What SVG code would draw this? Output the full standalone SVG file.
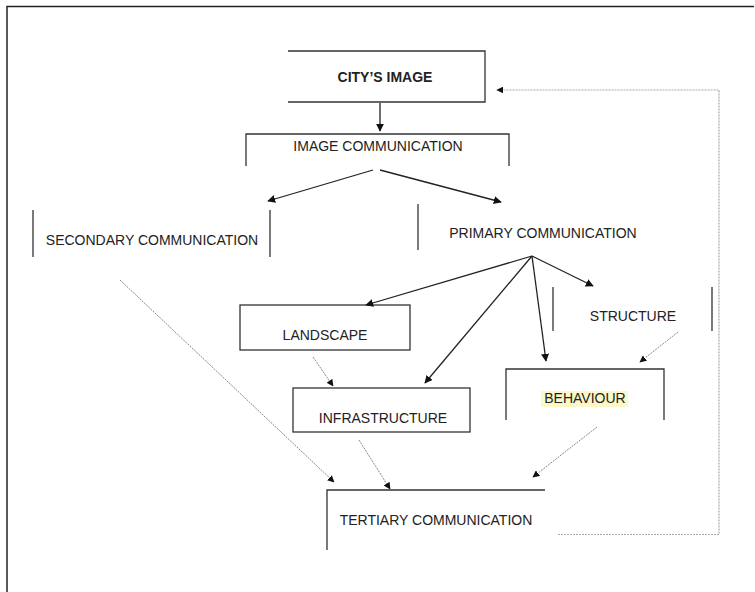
<svg xmlns="http://www.w3.org/2000/svg" width="755" height="592" viewBox="0 0 755 592">
<defs>
<style>
.frame{fill:none;stroke:#222;stroke-width:1.5}
.box{fill:none;stroke:#333;stroke-width:1.3}
.t{font-family:"Liberation Sans",Arial,sans-serif;font-size:14px;fill:#222}
.b{font-weight:bold}
.solid{fill:none;stroke:#222;stroke-width:1.3}
.dash{fill:none;stroke:#888;stroke-width:1;stroke-dasharray:2,1}
.dot{fill:none;stroke:#aaa;stroke-width:1.2;stroke-dasharray:2,1}
</style>
<marker id="ah" viewBox="0 0 10 10" refX="9" refY="5" markerWidth="8" markerHeight="8" markerUnits="userSpaceOnUse" orient="auto">
<path d="M0,0 L10,5 L0,10 z" fill="#111"/>
</marker>
<marker id="ahs" viewBox="0 0 10 10" refX="9" refY="5" markerWidth="7" markerHeight="7" markerUnits="userSpaceOnUse" orient="auto">
<path d="M0,0 L10,5 L0,10 z" fill="#111"/>
</marker>
</defs>
<rect width="755" height="592" fill="#fff"/>
<path class="frame" d="M7,592 V6.5 H754"/>

<g id="city-image">
<path class="box" d="M288,51 H485 V102 H288"/>
<text class="t b" x="385" y="82" text-anchor="middle">CITY’S IMAGE</text>
</g>
<g id="image-communication">
<path class="box" d="M246,166 V134 H509 V166"/>
<text class="t" x="378" y="151" text-anchor="middle">IMAGE COMMUNICATION</text>
</g>
<g id="secondary-communication">
<path class="box" d="M33,210 V257 M270,210 V257"/>
<text class="t" x="152" y="245" text-anchor="middle">SECONDARY COMMUNICATION</text>
</g>
<g id="primary-communication">
<path class="box" d="M418,204 V250"/>
<text class="t" x="543" y="238" text-anchor="middle">PRIMARY COMMUNICATION</text>
</g>
<g id="structure">
<path class="box" d="M553,287 V331 M712,287 V331"/>
<text class="t" x="633" y="321" text-anchor="middle">STRUCTURE</text>
</g>
<g id="landscape">
<rect class="box" x="240" y="305" width="170" height="45"/>
<text class="t" x="325" y="340" text-anchor="middle">LANDSCAPE</text>
</g>
<g id="infrastructure">
<rect class="box" x="293" y="388" width="177" height="44"/>
<text class="t" x="383" y="423" text-anchor="middle">INFRASTRUCTURE</text>
</g>
<g id="behaviour">
<path class="box" d="M506,420 V369 H664 V420"/>
<rect x="541" y="391" width="87" height="16" fill="#fcf8c8"/>
<text class="t" x="585" y="403" text-anchor="middle">BEHAVIOUR</text>
</g>
<g id="tertiary-communication">
<path class="box" d="M327,550 V490 H545"/>
<text class="t" x="436" y="525" text-anchor="middle">TERTIARY COMMUNICATION</text>
</g>

<g id="connectors">
<line class="solid" x1="380" y1="103" x2="380" y2="131" marker-end="url(#ah)"/>
<line class="solid" x1="373" y1="170" x2="268" y2="201" marker-end="url(#ah)"/>
<line class="solid" x1="380" y1="170" x2="501" y2="202" marker-end="url(#ah)"/>
<line class="solid" x1="532" y1="256" x2="366" y2="305" marker-end="url(#ah)"/>
<line class="solid" x1="532" y1="256" x2="425" y2="383" marker-end="url(#ah)"/>
<line class="solid" x1="532" y1="256" x2="546" y2="361" marker-end="url(#ah)"/>
<line class="solid" x1="532" y1="256" x2="593" y2="286" marker-end="url(#ah)"/>
<line class="dash" x1="120" y1="280" x2="334" y2="482" marker-end="url(#ahs)"/>
<line class="dash" x1="313" y1="357" x2="333" y2="386" marker-end="url(#ahs)"/>
<line class="dash" x1="359" y1="440" x2="390" y2="489" marker-end="url(#ahs)"/>
<line class="dash" x1="597" y1="427" x2="533" y2="477" marker-end="url(#ahs)"/>
<line class="dash" x1="678" y1="332" x2="640" y2="362" marker-end="url(#ahs)"/>
<path class="dot" d="M558,534.5 H719 V90 H497" marker-end="url(#ahs)"/>
</g>
</svg>
